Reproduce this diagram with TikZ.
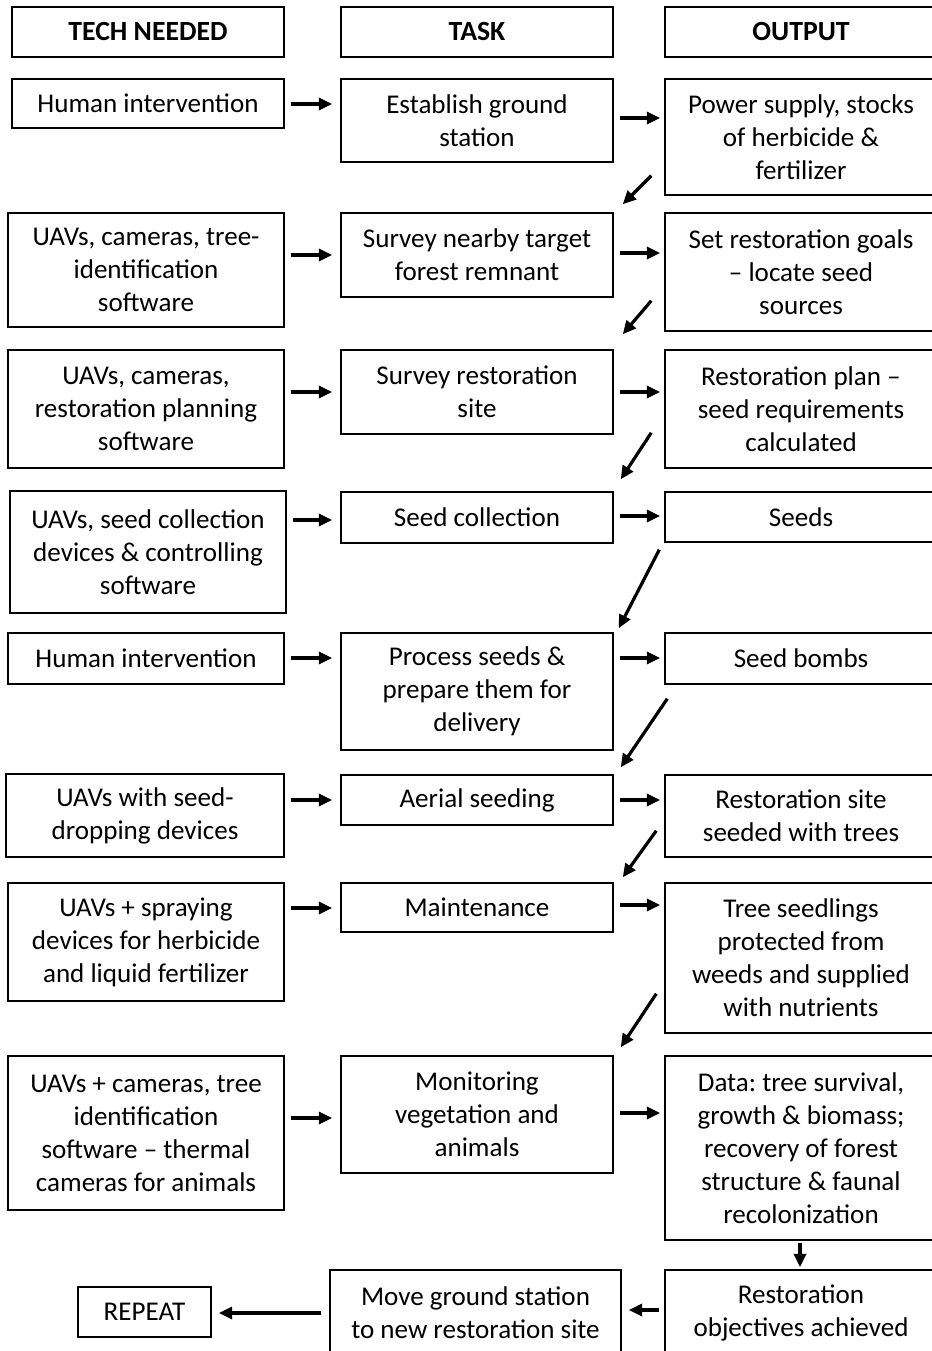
\documentclass[tikz,border=0pt]{standalone}
\usepackage{fontspec}
\setmainfont{Carlito}
\frenchspacing
\usetikzlibrary{arrows.meta,calc}
\tikzset{
  box/.style={draw=black, line width=1.1pt, inner sep=0pt, align=center, font=\fontsize{20.3}{24.75}\selectfont, text=black},
  hdr/.style={box, font=\fontsize{20.8}{24.75}\selectfont\bfseries},
  arr/.style={line width=2.4pt, -{Triangle[length=10pt,width=9pt]}}
}
% \bx[style]{name}{x1}{y1}{x2}{y2}{text}
\newcommand\bx[7][box]{%
  \pgfmathsetmacro\bxw{(#5-#3)*0.75}%
  \pgfmathsetmacro\bxh{(#6-#4)*0.75}%
  \node[#1, minimum width=\bxw pt, minimum height=\bxh pt] (#2) at ({(#3+#5)/2},{(#4+#6)/2}) {#7};}
\begin{document}
\begin{tikzpicture}[x=0.75pt,y=-0.75pt]
\useasboundingbox (0,0) rectangle (931,1351);
% headers
\bx[hdr]{h1}{12}{7}{284}{57}{TECH NEEDED}
\bx[hdr]{h2}{341}{7}{613}{57}{TASK}
\bx[hdr]{h3}{665}{7}{937}{57}{OUTPUT}
% row 1
\bx{t1}{12}{79}{284}{128}{Human intervention}
\bx{k1}{341}{79}{613}{162}{Establish ground\\station}
\bx{o1}{665}{79}{937}{195}{Power supply, stocks\\of herbicide \&\\fertilizer}
% row 2
\bx{t2}{8}{213}{284}{327}{UAVs, cameras, tree-\\identification\\software}
\bx{k2}{341}{213}{613}{297}{Survey nearby target\\forest remnant}
\bx{o2}{665}{213}{937}{331}{Set restoration goals\\-- locate seed\\sources}
% row 3
\bx{t3}{8}{350}{284}{468}{UAVs, cameras,\\restoration planning\\software}
\bx{k3}{341}{350}{613}{434}{Survey restoration\\site}
\bx{o3}{665}{350}{937}{468}{Restoration plan --\\seed requirements\\calculated}
% row 4
\bx{t4}{10}{491}{286}{613}{UAVs, seed collection\\devices \& controlling\\software}
\bx{k4}{341}{492}{613}{543}{Seed collection}
\bx{o4}{665}{492}{937}{542}{Seeds}
% row 5
\bx{t5}{8}{633}{284}{684}{Human intervention}
\bx{k5}{341}{633}{613}{750}{Process seeds \&\\prepare them for\\delivery}
\bx{o5}{665}{633}{937}{684}{Seed bombs}
% row 6
\bx{t6}{6}{774}{284}{857}{UAVs with seed-\\dropping devices}
\bx{k6}{341}{775}{613}{825}{Aerial seeding}
\bx{o6}{665}{775}{937}{857}{Restoration site\\seeded with trees}
% row 7
\bx{t7}{8}{883}{284}{1001}{UAVs + spraying\\devices for herbicide\\and liquid fertilizer}
\bx{k7}{341}{883}{613}{932}{Maintenance}
\bx{o7}{665}{883}{937}{1033}{Tree seedlings\\protected from\\weeds and supplied\\with nutrients}
% row 8
\bx{t8}{8}{1056}{284}{1210}{UAVs + cameras, tree\\identification\\software -- thermal\\cameras for animals}
\bx{k8}{341}{1056}{613}{1173}{Monitoring\\vegetation and\\animals}
\bx{o8}{665}{1056}{937}{1240}{Data: tree survival,\\growth \& biomass;\\recovery of forest\\structure \& faunal\\recolonization}
% row 9
\bx{rep}{78}{1287}{211}{1337}{REPEAT}
\bx{mv}{330}{1270}{621}{1356}{Move ground station\\to new restoration site}
\bx{ach}{665}{1270}{937}{1356}{Restoration\\objectives achieved}
% horizontal arrows
\draw[arr] ($(t1.east |- 0,104)+(6,0)$) -- ($(k1.west |- 0,104)+(-8,0)$);
\draw[arr] ($(k1.east |- 0,118)+(6,0)$) -- ($(o1.west |- 0,118)+(-4,0)$);
\draw[arr] ($(t2.east |- 0,255)+(6,0)$) -- ($(k2.west |- 0,255)+(-8,0)$);
\draw[arr] ($(k2.east |- 0,253)+(6,0)$) -- ($(o2.west |- 0,253)+(-4,0)$);
\draw[arr] ($(t3.east |- 0,392)+(6,0)$) -- ($(k3.west |- 0,392)+(-8,0)$);
\draw[arr] ($(k3.east |- 0,392)+(6,0)$) -- ($(o3.west |- 0,392)+(-4,0)$);
\draw[arr] ($(t4.east |- 0,520)+(6,0)$) -- ($(k4.west |- 0,520)+(-8,0)$);
\draw[arr] ($(k4.east |- 0,516)+(6,0)$) -- ($(o4.west |- 0,516)+(-4,0)$);
\draw[arr] ($(t5.east |- 0,658)+(6,0)$) -- ($(k5.west |- 0,658)+(-8,0)$);
\draw[arr] ($(k5.east |- 0,658)+(6,0)$) -- ($(o5.west |- 0,658)+(-4,0)$);
\draw[arr] ($(t6.east |- 0,800)+(6,0)$) -- ($(k6.west |- 0,800)+(-8,0)$);
\draw[arr] ($(k6.east |- 0,800)+(6,0)$) -- ($(o6.west |- 0,800)+(-4,0)$);
\draw[arr] ($(t7.east |- 0,908)+(6,0)$) -- ($(k7.west |- 0,908)+(-8,0)$);
\draw[arr] ($(k7.east |- 0,905)+(6,0)$) -- ($(o7.west |- 0,905)+(-4,0)$);
\draw[arr] ($(t8.east |- 0,1118)+(6,0)$) -- ($(k8.west |- 0,1118)+(-8,0)$);
\draw[arr] ($(k8.east |- 0,1113)+(6,0)$) -- ($(o8.west |- 0,1113)+(-4,0)$);
% diagonal arrows
\draw[arr] ($(o1.south west)+(-13,-20)$) -- ($(k2.north east)+(9,-8)$);
\draw[arr] ($(o2.south west)+(-13,-31)$) -- ($(k3.north east)+(9,-15)$);
\draw[arr] ($(o3.south west)+(-13,-36)$) -- ($(k4.north east)+(7,-12)$);
\draw[arr] ($(o4.south west)+(-5,7)$) -- ($(k5.north east)+(5,-4)$);
\draw[arr] ($(o5.south west)+(3,14)$) -- ($(k6.north east)+(7,-7)$);
\draw[arr] ($(o6.south west)+(-8,-27)$) -- ($(k7.north east)+(9,-5)$);
\draw[arr] ($(o7.south west)+(-8,-40)$) -- ($(k8.north east)+(7,-8)$);
% bottom arrows
\draw[arr] ($(o8.south -| 800,0)+(0,2)$) -- ($(ach.north -| 800,0)+(0,-2)$);
\draw[arr] ($(ach.west |- 0,1310)+(-5,0)$) -- ($(mv.east |- 0,1310)+(7,0)$);
\draw[arr] ($(mv.west |- 0,1313)+(-8,0)$) -- ($(rep.east |- 0,1313)+(7,0)$);
\end{tikzpicture}
\end{document}
